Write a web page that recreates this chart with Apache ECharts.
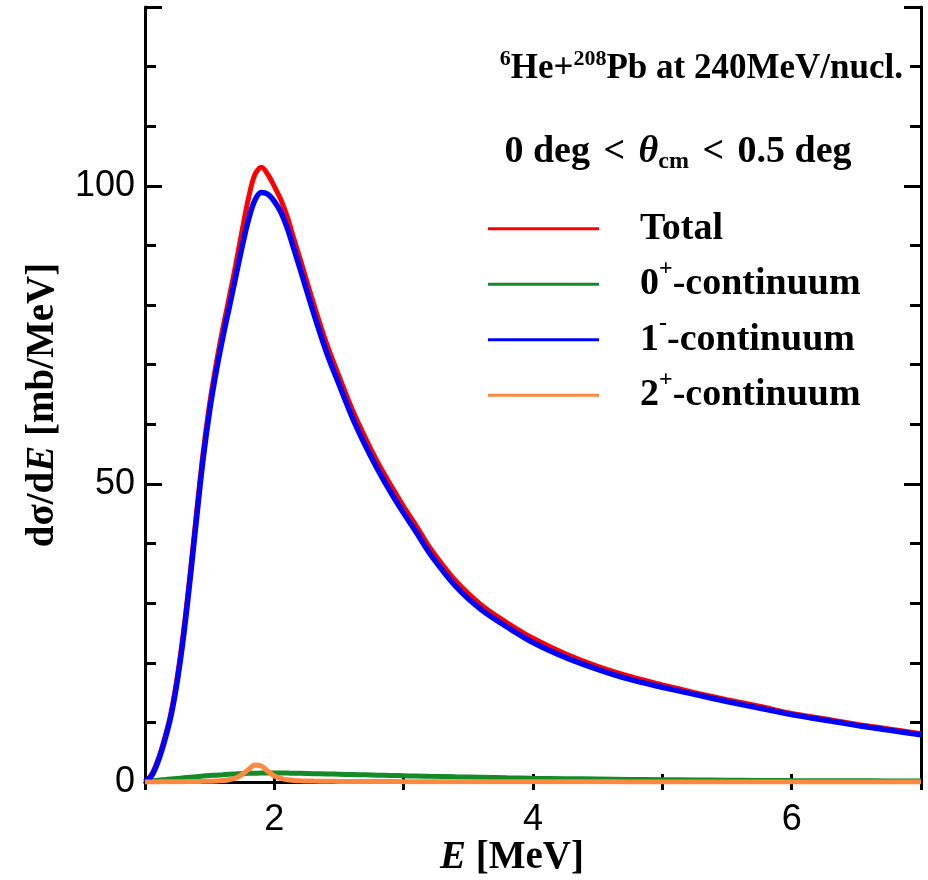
<!DOCTYPE html>
<html>
<head>
<meta charset="utf-8">
<script src="https://cdn.jsdelivr.net/npm/echarts@6/dist/echarts.min.js"></script>
<style>
  html, body { margin: 0; padding: 0; background: #fff; }
  #main { width: 928px; height: 880px; }
</style>
</head>
<body>
<div id="main"></div>
<script>
// energy grid (MeV)
var energy = [1.00, 1.05, 1.10, 1.15, 1.20, 1.25, 1.30, 1.35, 1.40, 1.45, 1.50, 1.55, 1.60, 1.65, 1.70, 1.75, 1.80, 1.85, 1.90, 1.95,
              2.00, 2.05, 2.10, 2.15, 2.20, 2.30, 2.40, 2.50, 2.60, 2.70, 2.80, 2.90, 3.00, 3.10, 3.20, 3.40, 3.60, 3.80,
              4.00, 4.25, 4.50, 4.75, 5.00, 5.25, 5.50, 5.75, 6.00, 6.25, 6.50, 6.75, 7.00];

var total = [0, 1.2, 3.7, 7.2, 11.5, 17.7, 25.6, 35.2, 45.5, 55.4, 63.5, 70.1, 75.9, 81.2, 86.6, 92.4, 97.9, 101.9, 103.1, 101.9,
             99.9, 97.7, 94.8, 91.2, 87.7, 80.5, 73.8, 68.1, 62.6, 57.9, 53.6, 49.8, 46.2, 42.9, 39.4, 33.8, 29.7, 26.7,
             24.1, 21.5, 19.4, 17.7, 16.3, 15.0, 13.8, 12.7, 11.5, 10.6, 9.7, 8.9, 8.1];

var cont0p = [0, 0.15, 0.3, 0.4, 0.5, 0.6, 0.7, 0.8, 0.9, 1.0, 1.08, 1.15, 1.22, 1.3, 1.35, 1.4, 1.45, 1.48, 1.5, 1.5,
              1.5, 1.5, 1.49, 1.47, 1.45, 1.4, 1.35, 1.3, 1.25, 1.2, 1.15, 1.1, 1.05, 1.0, 0.95, 0.86, 0.78, 0.7,
              0.63, 0.56, 0.49, 0.43, 0.38, 0.34, 0.3, 0.27, 0.24, 0.22, 0.2, 0.18, 0.16];

var cont1m = [0, 1.0, 3.4, 6.8, 11.0, 17.0, 24.8, 34.3, 44.5, 54.3, 62.3, 68.8, 74.4, 79.5, 84.6, 89.7, 94.3, 97.6, 98.9, 98.6,
              97.4, 95.6, 92.9, 89.5, 86.0, 78.9, 72.3, 66.7, 61.3, 56.6, 52.4, 48.6, 45.1, 41.8, 38.4, 32.9, 28.9, 26.0,
              23.4, 20.9, 18.9, 17.2, 15.9, 14.7, 13.5, 12.4, 11.3, 10.4, 9.5, 8.7, 7.9];

var cont2p = [0, 0.01, 0.02, 0.03, 0.04, 0.05, 0.06, 0.07, 0.09, 0.11, 0.14, 0.18, 0.25, 0.38, 0.65, 1.25, 2.1, 2.85, 2.7, 1.8,
              1.0, 0.6, 0.38, 0.27, 0.2, 0.15, 0.12, 0.1, 0.09, 0.08, 0.07, 0.07, 0.06, 0.06, 0.05, 0.05, 0.04, 0.04,
              0.03, 0.03, 0.03, 0.02, 0.02, 0.02, 0.02, 0.02, 0.01, 0.01, 0.01, 0.01, 0.01];

var xTickLabels = [2, 4, 6];
var yTickLabels = [0, 50, 100];
var seriesNames = ['Total', '0+-continuum', '1--continuum', '2+-continuum'];

function pairs(ys) {
    return energy.map(function (e, i) { return [e, ys[i]]; });
}

var serif = '"Liberation Serif", "Times New Roman", serif';
var sans = '"Liberation Sans", Arial, sans-serif';

function richSet(size, supSize) {
    return {
        b: { fontFamily: serif, fontWeight: 'bold', fontSize: size, color: '#000', lineHeight: size + 6 },
        i: { fontFamily: serif, fontWeight: 'bold', fontStyle: 'italic', fontSize: size, color: '#000', lineHeight: size + 6 },
        lt: { fontFamily: serif, fontWeight: 'bold', fontSize: size, color: '#000', lineHeight: size + 6, padding: [0, 4] },
        s: { fontFamily: serif, fontWeight: 'bold', fontSize: supSize, color: '#000', lineHeight: supSize + 1, verticalAlign: 'top' },
        sub: { fontFamily: serif, fontWeight: 'bold', fontSize: supSize, color: '#000', lineHeight: supSize + 8, verticalAlign: 'bottom' }
    };
}

function legendLabel(name) {
    if (name === 'Total') return '{b|Total}';
    var head = name.charAt(0), sign = name.charAt(1);
    return '{b|' + head + '}{s|' + sign + '}{b|-continuum}';
}

function lineSeries(name, ys, color, width) {
    return {
        name: name,
        type: 'line',
        data: pairs(ys),
        xAxisIndex: 0,
        yAxisIndex: 0,
        showSymbol: false,
        smooth: 0.35,
        lineStyle: { color: color, width: width },
        itemStyle: { color: color },
        animation: false
    };
}

var axisLineStyle = { color: '#000', width: 3 };

var option = {
    backgroundColor: '#fff',
    grid: { left: 145, right: 7, top: 7, bottom: 98 },
    legend: {
        orient: 'vertical',
        left: 483,
        top: 196,
        icon: 'rect',
        itemWidth: 111,
        itemHeight: 3,
        itemGap: 0,
        data: seriesNames,
        formatter: legendLabel,
        textStyle: {
            fontFamily: serif, fontWeight: 'bold', fontSize: 38, color: '#000',
            lineHeight: 55.5, padding: [0, 0, 0, 36],
            rich: {
                b: { fontFamily: serif, fontWeight: 'bold', fontSize: 38, color: '#000', lineHeight: 55.5 },
                s: { fontFamily: serif, fontWeight: 'bold', fontSize: 24, color: '#000', lineHeight: 34, verticalAlign: 'top' }
            }
        }
    },
    xAxis: [{
        type: 'value', min: 1, max: 7, interval: 1, position: 'bottom',
        axisLine: { lineStyle: axisLineStyle },
        axisTick: { inside: true, length: 8, lineStyle: { color: '#000', width: 3 } },
        axisLabel: {
            fontFamily: sans, fontSize: 36, color: '#000', margin: 20,
            formatter: function (v) { return xTickLabels.indexOf(v) >= 0 ? String(v) : ''; }
        },
        splitLine: { show: false }
    }, {
        type: 'value', min: 1, max: 7, interval: 1, position: 'top',
        axisLine: { lineStyle: axisLineStyle },
        axisTick: { inside: true, length: 8, lineStyle: { color: '#000', width: 3 } },
        axisLabel: { show: false },
        splitLine: { show: false }
    }],
    yAxis: [{
        type: 'value', min: 0, max: 130, interval: 10, position: 'left',
        axisLine: { show: true, lineStyle: axisLineStyle },
        axisTick: { inside: true, length: 11, lineStyle: { color: '#000', width: 3 } },
        axisLabel: {
            fontFamily: sans, fontSize: 36, color: '#000', margin: 10,
            formatter: function (v) { return yTickLabels.indexOf(v) >= 0 ? String(v) : ''; }
        },
        splitLine: { show: false }
    }, {
        type: 'value', min: 0, max: 130, interval: 50, position: 'left',
        axisLine: { show: false },
        axisTick: { inside: true, length: 17, lineStyle: { color: '#000', width: 3 } },
        axisLabel: { show: false },
        splitLine: { show: false }
    }, {
        type: 'value', min: 0, max: 130, interval: 10, position: 'right',
        axisLine: { show: true, lineStyle: axisLineStyle },
        axisTick: { inside: true, length: 11, lineStyle: { color: '#000', width: 3 } },
        axisLabel: { show: false },
        splitLine: { show: false }
    }, {
        type: 'value', min: 0, max: 130, interval: 50, position: 'right',
        axisLine: { show: false },
        axisTick: { inside: true, length: 17, lineStyle: { color: '#000', width: 3 } },
        axisLabel: { show: false },
        splitLine: { show: false }
    }],
    graphic: [{
        // x axis title
        type: 'text',
        x: 512, y: 858,
        style: {
            text: '{i|E}{b| [MeV]}',
            rich: richSet(39, 24),
            align: 'center',
            verticalAlign: 'middle'
        }
    }, {
        // y axis title
        type: 'text',
        x: 43, y: 405,
        rotation: Math.PI / 2,
        style: {
            text: '{b|d\u03c3/d}{i|E}{b| [mb/MeV]}',
            rich: richSet(39, 24),
            align: 'center',
            verticalAlign: 'middle'
        }
    }, {
        type: 'text',
        x: 903, y: 69,
        style: {
            text: '{s|6}{b|He+}{s|208}{b|Pb at 240MeV/nucl.}',
            rich: richSet(35, 22),
            align: 'right',
            verticalAlign: 'middle'
        }
    }, {
        type: 'text',
        x: 678, y: 152,
        style: {
            text: '{b|0 deg }{lt|<}{b| }{i|\u03b8}{sub|cm}{b| }{lt|<}{b| 0.5 deg}',
            rich: richSet(38, 24),
            align: 'center',
            verticalAlign: 'middle'
        }
    }],
    series: [
        lineSeries(seriesNames[0], total, '#ff0000', 5),
        lineSeries(seriesNames[1], cont0p, '#148a28', 5),
        lineSeries(seriesNames[2], cont1m, '#0000ff', 5.5),
        lineSeries(seriesNames[3], cont2p, '#ff8840', 5)
    ]
};

var myChart = echarts.init(document.getElementById('main'));
myChart.setOption(option);
</script>
</body>
</html>
